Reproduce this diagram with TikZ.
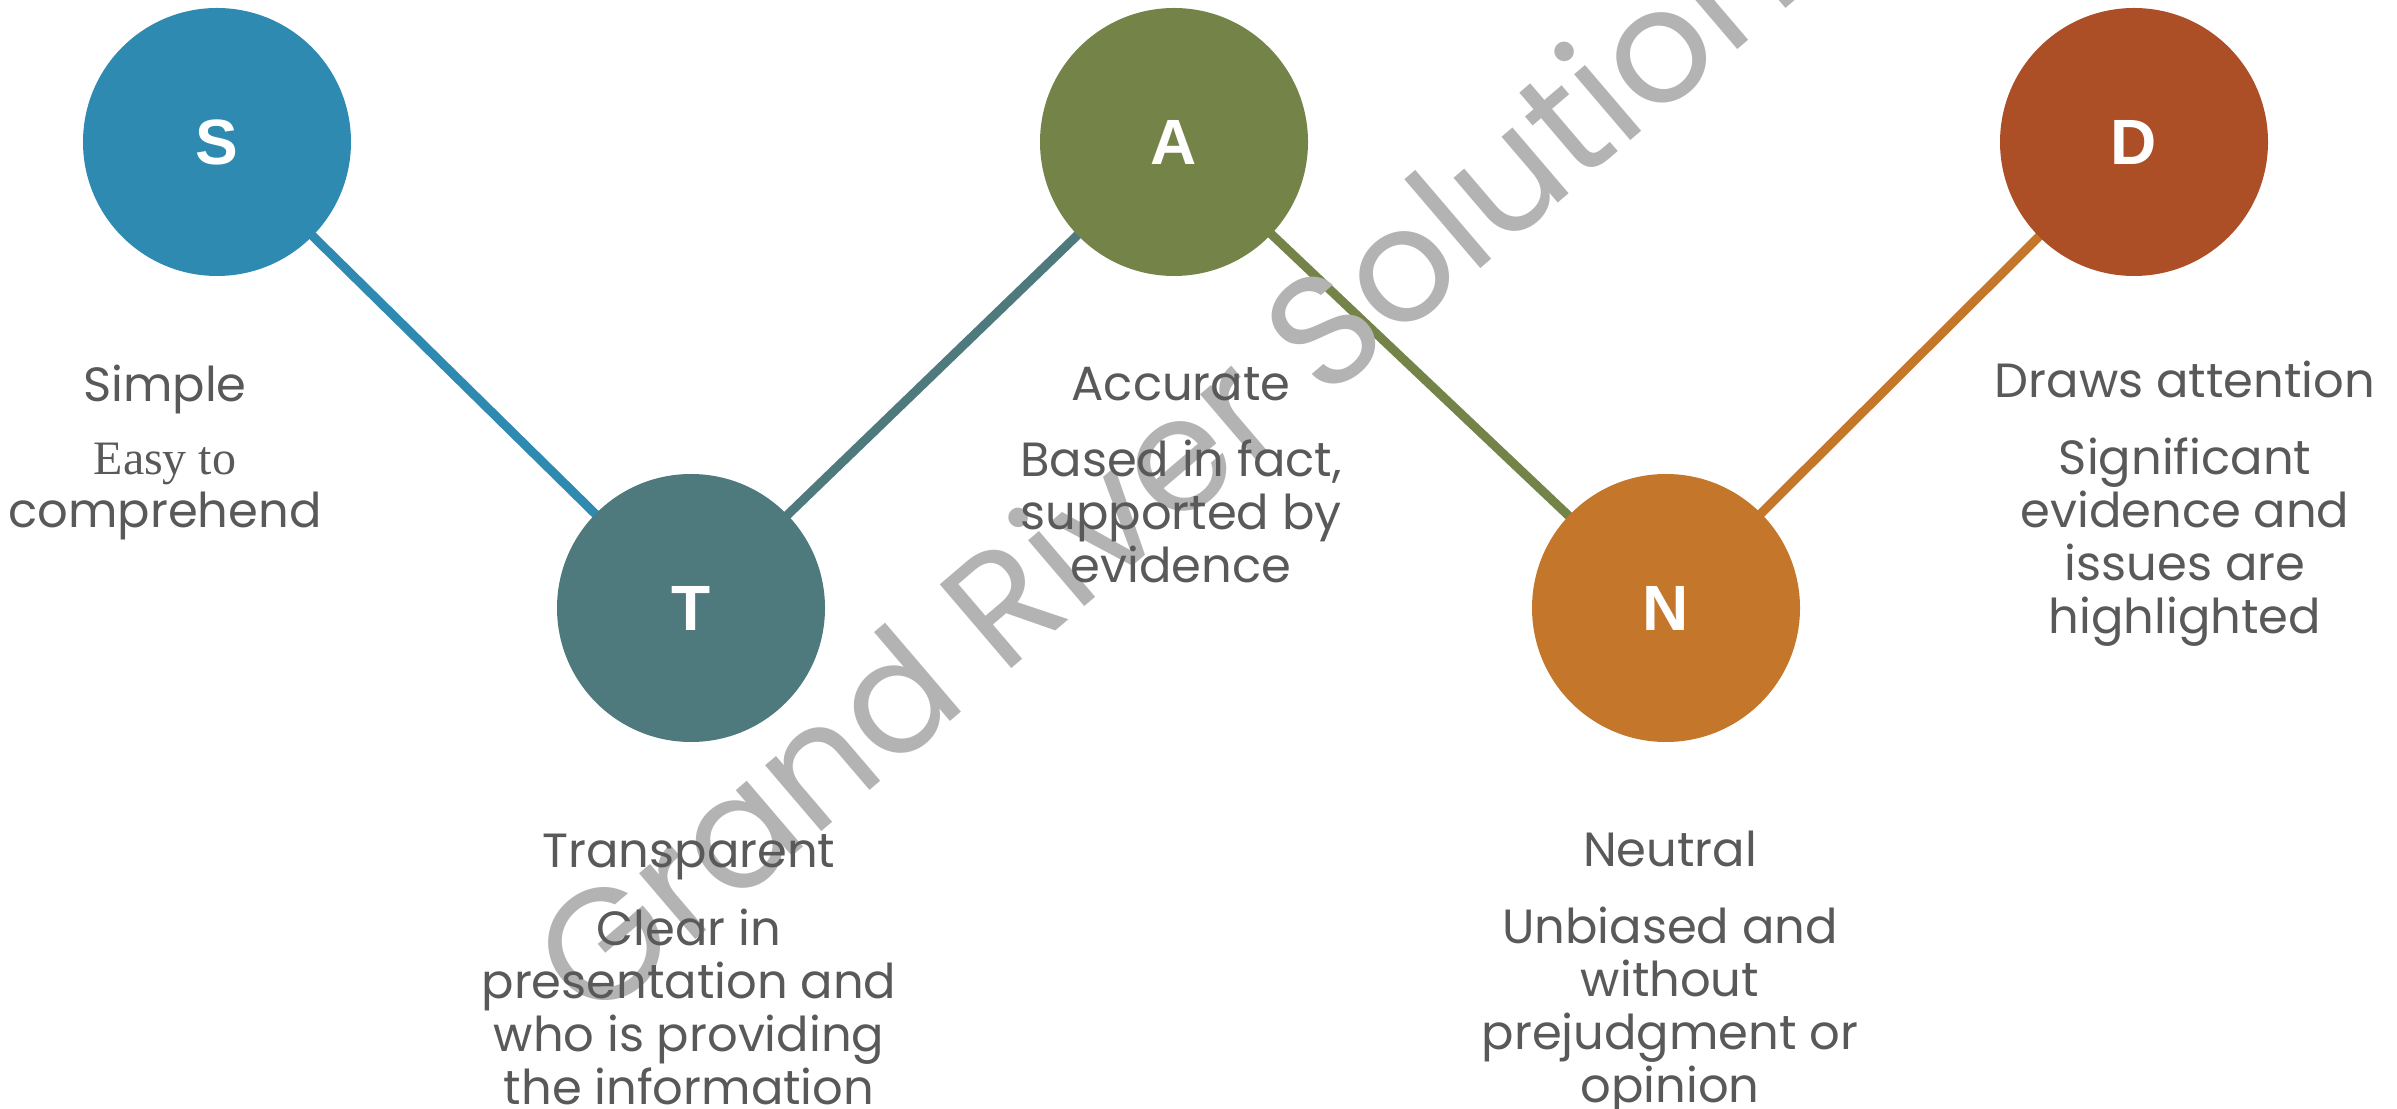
\documentclass[tikz,border=0pt]{standalone}
\usepackage{fontspec}
\setmainfont{Poppins}
\newfontfamily\letterfont{Liberation Sans}
\newfontfamily\easyfont{Liberation Serif}
\usetikzlibrary{positioning, backgrounds}

\definecolor{sblue}{HTML}{2E8AB0}
\definecolor{tteal}{HTML}{4E7A7E}
\definecolor{aolive}{HTML}{748448}
\definecolor{norange}{HTML}{C4762B}
\definecolor{dred}{HTML}{AD4F26}
\definecolor{textgray}{HTML}{595959}
\definecolor{wmgray}{HTML}{B3B3B3}

\tikzset{
  letter/.style={circle, minimum size=268pt, inner sep=0pt, text=white,
                 font=\letterfont\bfseries\fontsize{64}{64}\selectfont},
  heading/.style={anchor=base, text=textgray, font=\fontsize{48}{53}\selectfont},
  detail/.style={anchor=base, align=center, text=textgray, font=\fontsize{48}{53}\selectfont},
  link/.style={line width=9pt, shorten <=-6pt, shorten >=-6pt}
}

\begin{document}
\begin{tikzpicture}[x=1pt, y=1pt]

    \clip (0,0) rectangle (2397,1108); % full slide area

    % the five letter circles, zig-zag top / bottom
    \node [letter, fill=sblue]   (s) at (217, 966)  {S};
    \node [letter, fill=tteal]   (t) at (691, 500)  {T};
    \node [letter, fill=aolive]  (a) at (1174, 966) {A};
    \node [letter, fill=norange] (n) at (1666, 500) {N};
    \node [letter, fill=dred]    (d) at (2134, 966) {D};

    % connectors behind the circles, coloured after the circle they leave
    \begin{scope}[on background layer]
        \draw [link, sblue]   (s) -- (t);
        \draw [link, tteal]   (t) -- (a);
        \draw [link, aolive]  (a) -- (n);
        \draw [link, norange] (n) -- (d);
    \end{scope}

    % watermark
    \node (mark) [rotate=40.5, anchor=base west, text=wmgray, inner sep=0pt,
                  font=\fontsize{158}{158}\selectfont] at (593, 81) {Grand River Solutions};

    % headings and descriptions (detail nodes sit on the baseline of their last line)
    \node [heading] (sh) at (165, 706) {Simple};
    \node [detail]  (sd) at (165, 580) {{\easyfont Easy to}\\comprehend};

    \node [heading] (th) at (689, 240) {Transparent};
    \node [detail]  (td) at (689, 4)   {Clear in\\presentation and\\who is providing\\the information};

    \node [heading] (ah) at (1181, 707) {Accurate};
    \node [detail]  (ad) at (1181, 525) {Based in fact,\\supported by\\evidence};

    \node [heading] (nh) at (1670, 241) {Neutral};
    \node [detail]  (nd) at (1670, 6)   {Unbiased and\\without\\prejudgment or\\opinion};

    \node [heading] (dh) at (2185, 710) {Draws attention};
    \node [detail]  (dd) at (2185, 474) {Significant\\evidence and\\issues are\\highlighted};

\end{tikzpicture}
\end{document}
